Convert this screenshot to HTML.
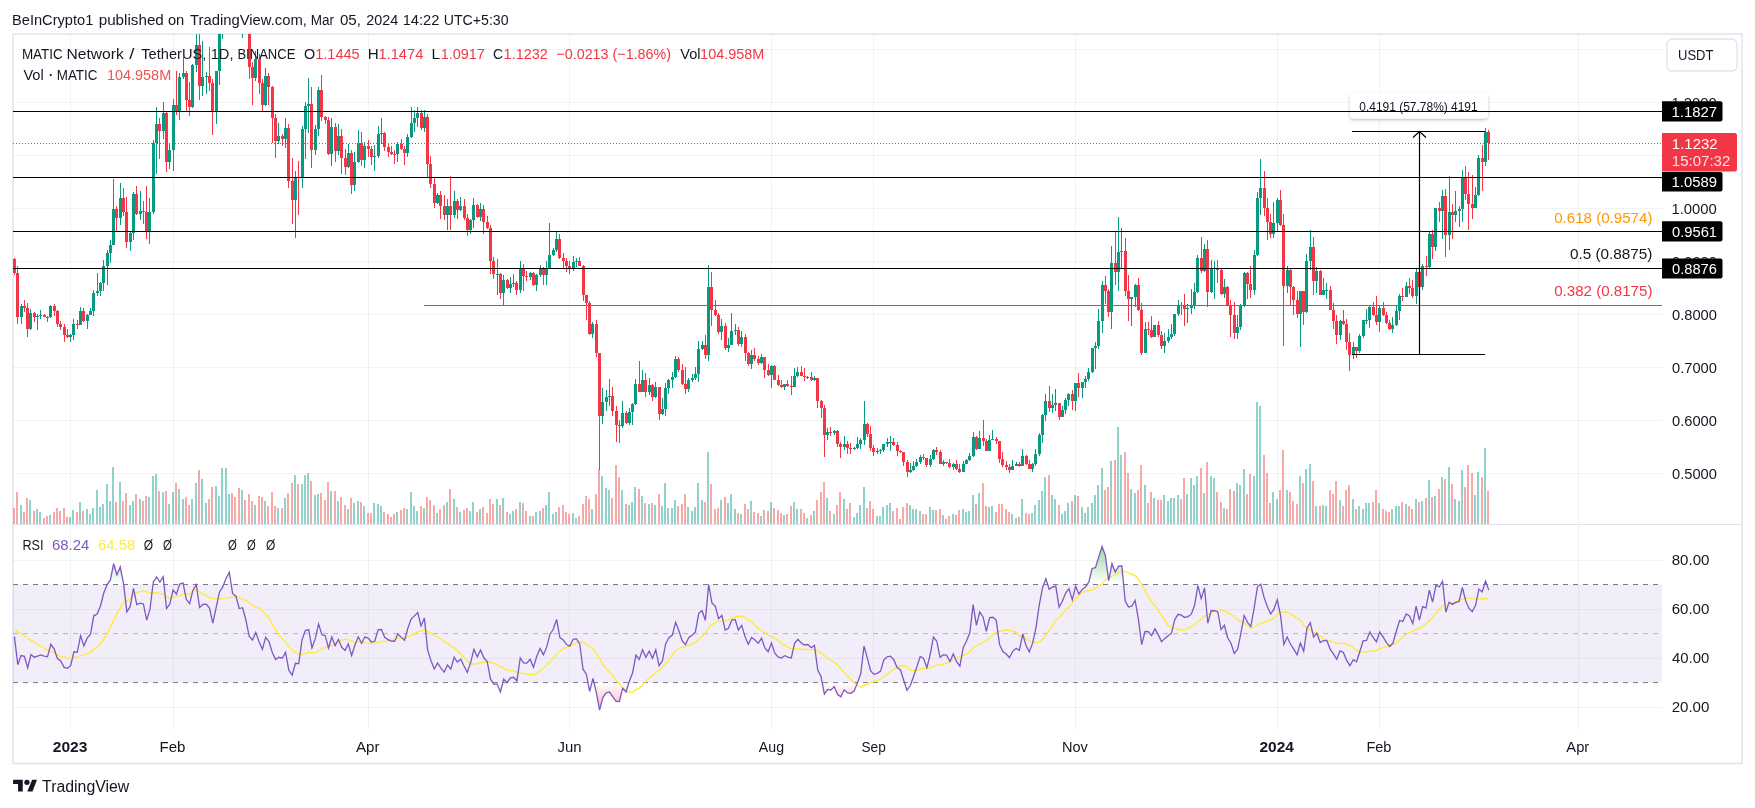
<!DOCTYPE html><html><head><meta charset="utf-8"><style>
html,body{margin:0;padding:0;background:#fff;}body{width:1755px;height:808px;overflow:hidden;position:relative;font-family:"Liberation Sans", sans-serif;}
svg{position:absolute;left:0;top:0;will-change:transform;}text{font-family:"Liberation Sans", sans-serif;}
</style></head><body>
<svg width="1755" height="808" viewBox="0 0 1755 808">
<defs><clipPath id="cpMain"><rect x="13" y="34" width="1649" height="490"/></clipPath>
<clipPath id="cpRsi"><rect x="13" y="525" width="1649" height="204"/></clipPath>
<filter id="sh" x="-10%" y="-30%" width="120%" height="180%"><feDropShadow dx="0" dy="1.5" stdDeviation="1.5" flood-color="#000" flood-opacity="0.25"/></filter></defs>
<text x="12.00" y="25.10" font-size="15.50" fill="#131722" textLength="81.31" lengthAdjust="spacingAndGlyphs">BeInCrypto1</text>
<text x="98.72" y="25.10" font-size="15.50" fill="#131722" textLength="65.06" lengthAdjust="spacingAndGlyphs">published</text>
<text x="167.88" y="25.10" font-size="15.50" fill="#131722" textLength="16.37" lengthAdjust="spacingAndGlyphs">on</text>
<text x="189.97" y="25.10" font-size="15.50" fill="#131722" textLength="116.94" lengthAdjust="spacingAndGlyphs">TradingView.com,</text>
<text x="310.69" y="25.10" font-size="15.50" fill="#131722" textLength="23.34" lengthAdjust="spacingAndGlyphs">Mar</text>
<text x="339.91" y="25.10" font-size="15.50" fill="#131722" textLength="21.05" lengthAdjust="spacingAndGlyphs">05,</text>
<text x="366.18" y="25.10" font-size="15.50" fill="#131722" textLength="31.94" lengthAdjust="spacingAndGlyphs">2024</text>
<text x="402.68" y="25.10" font-size="15.50" fill="#131722" textLength="36.76" lengthAdjust="spacingAndGlyphs">14:22</text>
<text x="443.81" y="25.10" font-size="15.50" fill="#131722" textLength="64.74" lengthAdjust="spacingAndGlyphs">UTC+5:30</text>
<rect x="13" y="34" width="1729" height="729.5" fill="#fff" stroke="#e0e3eb" stroke-width="1.5"/>
<path d="M13 49.5H1662M13 102.5H1662M13 155.5H1662M13 208.5H1662M13 261.5H1662M13 314.5H1662M13 367.5H1662M13 420.5H1662M13 473.5H1662M13 560.5H1662M13 609.5H1662M13 658.5H1662M13 707.5H1662M70.5 34V729M173.5 34V729M368.5 34V729M569.5 34V729M771.5 34V729M873.5 34V729M1075.5 34V729M1277.5 34V729M1379.5 34V729M1578.5 34V729" stroke="rgba(42,46,57,0.06)" stroke-width="1" fill="none"/>
<path d="M13 524.5H1742" stroke="#e0e3eb" stroke-width="1.2"/>
<g clip-path="url(#cpMain)">
<path d="M20 505h2v19h-2zM29 500h2v24h-2zM36 509h2v15h-2zM39 512h2v12h-2zM49 515h2v9h-2zM69 517h2v7h-2zM72 510h2v14h-2zM79 502h2v22h-2zM86 509h2v15h-2zM89 514h2v10h-2zM92 508h2v16h-2zM96 490h2v34h-2zM99 507h2v17h-2zM102 504h2v20h-2zM106 484h2v40h-2zM109 501h2v23h-2zM112 467h2v57h-2zM119 482h2v42h-2zM129 505h2v19h-2zM132 501h2v23h-2zM139 499h2v25h-2zM148 497h2v27h-2zM152 476h2v48h-2zM155 474h2v50h-2zM162 492h2v32h-2zM168 504h2v20h-2zM172 492h2v32h-2zM178 489h2v35h-2zM182 499h2v25h-2zM191 499h2v25h-2zM195 483h2v41h-2zM201 479h2v45h-2zM205 503h2v21h-2zM215 486h2v38h-2zM218 496h2v28h-2zM221 468h2v56h-2zM225 468h2v56h-2zM228 494h2v30h-2zM241 490h2v34h-2zM254 505h2v19h-2zM264 501h2v23h-2zM277 508h2v16h-2zM284 498h2v26h-2zM294 475h2v49h-2zM301 484h2v40h-2zM304 475h2v49h-2zM307 473h2v51h-2zM314 495h2v29h-2zM317 494h2v30h-2zM330 491h2v33h-2zM337 501h2v23h-2zM347 509h2v15h-2zM353 503h2v21h-2zM357 501h2v23h-2zM363 506h2v18h-2zM373 503h2v21h-2zM377 504h2v20h-2zM380 506h2v18h-2zM396 512h2v12h-2zM406 509h2v15h-2zM410 492h2v32h-2zM413 506h2v18h-2zM416 511h2v13h-2zM423 508h2v16h-2zM436 513h2v11h-2zM446 502h2v22h-2zM453 499h2v25h-2zM459 512h2v12h-2zM469 511h2v13h-2zM472 502h2v22h-2zM479 509h2v15h-2zM496 499h2v25h-2zM502 498h2v26h-2zM509 514h2v10h-2zM512 511h2v13h-2zM519 502h2v22h-2zM529 516h2v8h-2zM535 512h2v12h-2zM539 511h2v13h-2zM545 505h2v19h-2zM548 492h2v32h-2zM552 514h2v10h-2zM555 512h2v12h-2zM572 513h2v11h-2zM575 518h2v6h-2zM591 509h2v15h-2zM601 476h2v48h-2zM605 488h2v36h-2zM608 490h2v34h-2zM621 490h2v34h-2zM628 505h2v19h-2zM631 502h2v22h-2zM634 487h2v37h-2zM641 496h2v28h-2zM648 504h2v20h-2zM654 505h2v19h-2zM661 506h2v18h-2zM664 483h2v41h-2zM667 508h2v16h-2zM671 508h2v16h-2zM674 500h2v24h-2zM687 507h2v17h-2zM691 511h2v13h-2zM694 507h2v17h-2zM697 483h2v41h-2zM701 500h2v24h-2zM707 452h2v72h-2zM720 500h2v24h-2zM727 503h2v21h-2zM730 494h2v30h-2zM734 509h2v15h-2zM740 514h2v10h-2zM750 501h2v23h-2zM760 516h2v8h-2zM770 502h2v22h-2zM783 515h2v9h-2zM793 502h2v22h-2zM796 509h2v15h-2zM806 518h2v6h-2zM813 511h2v13h-2zM826 498h2v26h-2zM833 514h2v10h-2zM843 499h2v25h-2zM853 517h2v7h-2zM856 513h2v11h-2zM859 505h2v19h-2zM863 487h2v37h-2zM876 516h2v8h-2zM879 516h2v8h-2zM882 507h2v17h-2zM886 505h2v19h-2zM889 503h2v21h-2zM909 505h2v19h-2zM912 509h2v15h-2zM915 509h2v15h-2zM919 511h2v13h-2zM929 507h2v17h-2zM932 510h2v14h-2zM942 515h2v9h-2zM952 514h2v10h-2zM962 509h2v15h-2zM965 512h2v12h-2zM968 511h2v13h-2zM972 495h2v29h-2zM978 493h2v31h-2zM988 507h2v17h-2zM991 506h2v18h-2zM1011 514h2v10h-2zM1015 518h2v6h-2zM1021 499h2v25h-2zM1031 513h2v11h-2zM1034 505h2v19h-2zM1038 500h2v24h-2zM1041 491h2v33h-2zM1044 477h2v47h-2zM1051 495h2v29h-2zM1054 499h2v25h-2zM1061 514h2v10h-2zM1064 511h2v13h-2zM1067 503h2v21h-2zM1074 495h2v29h-2zM1081 507h2v17h-2zM1084 513h2v11h-2zM1087 507h2v17h-2zM1091 503h2v21h-2zM1094 495h2v29h-2zM1097 485h2v39h-2zM1101 468h2v56h-2zM1110 461h2v63h-2zM1117 427h2v97h-2zM1120 455h2v69h-2zM1130 489h2v35h-2zM1134 493h2v31h-2zM1144 485h2v39h-2zM1153 498h2v26h-2zM1163 495h2v29h-2zM1167 501h2v23h-2zM1170 498h2v26h-2zM1173 498h2v26h-2zM1177 495h2v29h-2zM1186 494h2v30h-2zM1190 478h2v46h-2zM1193 485h2v39h-2zM1196 476h2v48h-2zM1203 493h2v31h-2zM1210 476h2v48h-2zM1213 478h2v46h-2zM1223 508h2v16h-2zM1236 483h2v41h-2zM1239 485h2v39h-2zM1243 469h2v55h-2zM1253 476h2v48h-2zM1256 402h2v122h-2zM1259 406h2v118h-2zM1272 492h2v32h-2zM1276 499h2v25h-2zM1286 490h2v34h-2zM1299 476h2v48h-2zM1305 469h2v55h-2zM1309 464h2v60h-2zM1315 506h2v18h-2zM1322 505h2v19h-2zM1325 506h2v18h-2zM1339 500h2v24h-2zM1352 499h2v25h-2zM1358 506h2v18h-2zM1362 509h2v15h-2zM1365 503h2v21h-2zM1368 503h2v21h-2zM1378 503h2v21h-2zM1391 509h2v15h-2zM1395 506h2v18h-2zM1398 506h2v18h-2zM1405 504h2v20h-2zM1415 499h2v25h-2zM1421 501h2v23h-2zM1428 480h2v44h-2zM1434 496h2v28h-2zM1441 477h2v47h-2zM1448 467h2v57h-2zM1454 499h2v25h-2zM1458 501h2v23h-2zM1461 470h2v54h-2zM1474 495h2v29h-2zM1477 472h2v52h-2zM1484 448h2v76h-2z" fill="rgba(38,166,154,0.5)" shape-rendering="crispEdges"/>
<path d="M13 508h2v16h-2zM16 492h2v32h-2zM23 512h2v12h-2zM26 498h2v26h-2zM33 511h2v13h-2zM43 518h2v6h-2zM46 516h2v8h-2zM53 512h2v12h-2zM56 508h2v16h-2zM59 511h2v13h-2zM63 508h2v16h-2zM66 517h2v7h-2zM76 512h2v12h-2zM82 511h2v13h-2zM115 502h2v22h-2zM122 501h2v23h-2zM125 493h2v31h-2zM135 494h2v30h-2zM142 501h2v23h-2zM145 496h2v28h-2zM158 491h2v33h-2zM165 491h2v33h-2zM175 483h2v41h-2zM185 497h2v27h-2zM188 505h2v19h-2zM198 470h2v54h-2zM208 499h2v25h-2zM211 487h2v37h-2zM231 493h2v31h-2zM234 497h2v27h-2zM238 488h2v36h-2zM244 500h2v24h-2zM248 494h2v30h-2zM251 501h2v23h-2zM258 496h2v28h-2zM261 497h2v27h-2zM267 506h2v18h-2zM271 492h2v32h-2zM274 506h2v18h-2zM281 508h2v16h-2zM287 493h2v31h-2zM291 483h2v41h-2zM297 484h2v40h-2zM310 481h2v43h-2zM320 493h2v31h-2zM324 500h2v24h-2zM327 482h2v42h-2zM334 491h2v33h-2zM340 497h2v27h-2zM344 505h2v19h-2zM350 498h2v26h-2zM360 502h2v22h-2zM367 513h2v11h-2zM370 513h2v11h-2zM383 512h2v12h-2zM387 514h2v10h-2zM390 517h2v7h-2zM393 514h2v10h-2zM400 510h2v14h-2zM403 508h2v16h-2zM420 506h2v18h-2zM426 497h2v27h-2zM429 500h2v24h-2zM433 505h2v19h-2zM439 509h2v15h-2zM443 505h2v19h-2zM449 489h2v35h-2zM456 507h2v17h-2zM463 510h2v14h-2zM466 508h2v16h-2zM476 512h2v12h-2zM482 507h2v17h-2zM486 513h2v11h-2zM489 499h2v25h-2zM492 504h2v20h-2zM499 505h2v19h-2zM506 512h2v12h-2zM515 509h2v15h-2zM522 503h2v21h-2zM525 511h2v13h-2zM532 516h2v8h-2zM542 508h2v16h-2zM558 507h2v17h-2zM562 505h2v19h-2zM565 512h2v12h-2zM568 514h2v10h-2zM578 516h2v8h-2zM582 504h2v20h-2zM585 496h2v28h-2zM588 499h2v25h-2zM595 494h2v30h-2zM598 469h2v55h-2zM611 498h2v26h-2zM615 465h2v59h-2zM618 477h2v47h-2zM625 504h2v20h-2zM638 489h2v35h-2zM644 503h2v21h-2zM651 503h2v21h-2zM658 494h2v30h-2zM677 506h2v18h-2zM681 504h2v20h-2zM684 494h2v30h-2zM704 502h2v22h-2zM710 484h2v40h-2zM714 509h2v15h-2zM717 508h2v16h-2zM724 497h2v27h-2zM737 513h2v11h-2zM744 504h2v20h-2zM747 509h2v15h-2zM753 512h2v12h-2zM757 513h2v11h-2zM763 510h2v14h-2zM767 511h2v13h-2zM773 508h2v16h-2zM777 510h2v14h-2zM780 513h2v11h-2zM786 514h2v10h-2zM790 506h2v18h-2zM800 509h2v15h-2zM803 513h2v11h-2zM810 515h2v9h-2zM816 500h2v24h-2zM820 492h2v32h-2zM823 482h2v42h-2zM829 511h2v13h-2zM836 505h2v19h-2zM839 492h2v32h-2zM846 509h2v15h-2zM849 503h2v21h-2zM866 508h2v16h-2zM869 501h2v23h-2zM872 509h2v15h-2zM892 511h2v13h-2zM896 508h2v16h-2zM899 519h2v5h-2zM902 507h2v17h-2zM906 503h2v21h-2zM922 514h2v10h-2zM925 514h2v10h-2zM935 510h2v14h-2zM939 509h2v15h-2zM945 519h2v5h-2zM948 516h2v8h-2zM955 515h2v9h-2zM958 510h2v14h-2zM975 504h2v20h-2zM982 483h2v41h-2zM985 506h2v18h-2zM995 512h2v12h-2zM998 504h2v20h-2zM1001 504h2v20h-2zM1005 509h2v15h-2zM1008 512h2v12h-2zM1018 517h2v7h-2zM1025 513h2v11h-2zM1028 514h2v10h-2zM1048 475h2v49h-2zM1058 505h2v19h-2zM1071 501h2v23h-2zM1077 496h2v28h-2zM1104 490h2v34h-2zM1107 487h2v37h-2zM1114 460h2v64h-2zM1124 452h2v72h-2zM1127 473h2v51h-2zM1137 490h2v34h-2zM1140 465h2v59h-2zM1147 503h2v21h-2zM1150 492h2v32h-2zM1157 500h2v24h-2zM1160 500h2v24h-2zM1180 499h2v25h-2zM1183 478h2v46h-2zM1200 468h2v56h-2zM1206 462h2v62h-2zM1216 492h2v32h-2zM1220 502h2v22h-2zM1226 509h2v15h-2zM1229 489h2v35h-2zM1233 491h2v33h-2zM1246 494h2v30h-2zM1249 474h2v50h-2zM1263 455h2v69h-2zM1266 473h2v51h-2zM1269 503h2v21h-2zM1279 490h2v34h-2zM1282 450h2v74h-2zM1289 492h2v32h-2zM1292 501h2v23h-2zM1296 504h2v20h-2zM1302 483h2v41h-2zM1312 481h2v43h-2zM1319 506h2v18h-2zM1329 490h2v34h-2zM1332 494h2v30h-2zM1335 481h2v43h-2zM1342 506h2v18h-2zM1345 490h2v34h-2zM1348 485h2v39h-2zM1355 509h2v15h-2zM1372 502h2v22h-2zM1375 490h2v34h-2zM1382 509h2v15h-2zM1385 511h2v13h-2zM1388 512h2v12h-2zM1401 502h2v22h-2zM1408 506h2v18h-2zM1411 509h2v15h-2zM1418 502h2v22h-2zM1425 498h2v26h-2zM1431 497h2v27h-2zM1438 489h2v35h-2zM1444 479h2v45h-2zM1451 484h2v40h-2zM1464 487h2v37h-2zM1467 465h2v59h-2zM1471 473h2v51h-2zM1481 477h2v47h-2zM1487 491h2v33h-2z" fill="rgba(239,83,80,0.5)" shape-rendering="crispEdges"/>
<path d="M21 304h1v20h-1zM20 306h3v11h-3zM30 309h1v21h-1zM29 313h3v16h-3zM37 314h1v16h-1zM36 316h3v1h-3zM40 310h1v9h-1zM39 315h3v1h-3zM50 305h1v13h-1zM49 306h3v11h-3zM70 334h1v8h-1zM69 335h3v2h-3zM73 319h1v21h-1zM72 324h3v11h-3zM80 307h1v18h-1zM79 311h3v14h-3zM87 314h1v15h-1zM86 315h3v6h-3zM90 308h1v7h-1zM89 311h3v4h-3zM93 290h1v26h-1zM92 293h3v18h-3zM97 273h1v23h-1zM96 291h3v2h-3zM100 282h1v14h-1zM99 283h3v8h-3zM103 260h1v31h-1zM102 266h3v17h-3zM107 250h1v35h-1zM106 253h3v13h-3zM110 240h1v23h-1zM109 245h3v8h-3zM113 179h1v66h-1zM112 209h3v36h-3zM120 183h1v42h-1zM119 198h3v20h-3zM130 231h1v20h-1zM129 233h3v9h-3zM133 192h1v48h-1zM132 194h3v39h-3zM140 191h1v29h-1zM139 211h3v3h-3zM149 198h1v46h-1zM148 212h3v20h-3zM153 140h1v74h-1zM152 143h3v69h-3zM156 107h1v67h-1zM155 124h3v19h-3zM163 102h1v37h-1zM162 113h3v18h-3zM169 144h1v25h-1zM168 150h3v12h-3zM173 99h1v72h-1zM172 105h3v45h-3zM179 73h1v47h-1zM178 77h3v35h-3zM183 57h1v22h-1zM182 73h3v4h-3zM192 64h1v44h-1zM191 65h3v42h-3zM196 34h1v38h-1zM195 45h3v20h-3zM202 41h1v55h-1zM201 77h3v9h-3zM206 72h1v22h-1zM205 76h3v1h-3zM216 71h1v53h-1zM215 71h3v40h-3zM219 12h1v73h-1zM218 17h3v54h-3zM222 -30h1v69h-1zM221 -4h3v21h-3zM226 -67h1v74h-1zM225 -41h3v37h-3zM229 -94h1v69h-1zM228 -73h3v32h-3zM242 -9h1v47h-1zM241 -1h3v3h-3zM255 51h1v30h-1zM254 59h3v19h-3zM265 68h1v38h-1zM264 76h3v29h-3zM278 123h1v21h-1zM277 136h3v5h-3zM285 118h1v30h-1zM284 128h3v11h-3zM295 171h1v67h-1zM294 177h3v23h-3zM302 126h1v62h-1zM301 129h3v49h-3zM305 102h1v57h-1zM304 106h3v23h-3zM308 78h1v55h-1zM307 104h3v2h-3zM315 125h1v30h-1zM314 129h3v21h-3zM318 87h1v49h-1zM317 90h3v39h-3zM331 118h1v48h-1zM330 127h3v27h-3zM338 124h1v31h-1zM337 136h3v15h-3zM348 144h1v24h-1zM347 153h3v14h-3zM354 152h1v39h-1zM353 162h3v23h-3zM358 130h1v33h-1zM357 143h3v19h-3zM364 142h1v26h-1zM363 146h3v14h-3zM374 145h1v26h-1zM373 156h3v1h-3zM378 126h1v32h-1zM377 134h3v22h-3zM381 118h1v26h-1zM380 133h3v1h-3zM397 142h1v20h-1zM396 144h3v10h-3zM407 134h1v23h-1zM406 137h3v16h-3zM411 107h1v31h-1zM410 123h3v14h-3zM414 110h1v22h-1zM413 118h3v5h-3zM417 107h1v20h-1zM416 113h3v5h-3zM424 110h1v22h-1zM423 117h3v11h-3zM437 193h1v11h-1zM436 195h3v8h-3zM447 199h1v31h-1zM446 206h3v9h-3zM454 191h1v27h-1zM453 201h3v14h-3zM460 197h1v14h-1zM459 206h3v4h-3zM470 219h1v15h-1zM469 220h3v10h-3zM473 198h1v30h-1zM472 205h3v15h-3zM480 203h1v18h-1zM479 209h3v8h-3zM497 259h1v36h-1zM496 274h3v1h-3zM503 275h1v30h-1zM502 280h3v13h-3zM510 277h1v16h-1zM509 284h3v4h-3zM513 274h1v13h-1zM512 283h3v1h-3zM520 261h1v32h-1zM519 268h3v22h-3zM530 272h1v8h-1zM529 273h3v4h-3zM536 274h1v17h-1zM535 275h3v10h-3zM540 265h1v12h-1zM539 268h3v7h-3zM546 261h1v24h-1zM545 268h3v7h-3zM549 223h1v46h-1zM548 255h3v13h-3zM553 248h1v8h-1zM552 250h3v5h-3zM556 232h1v20h-1zM555 239h3v11h-3zM573 256h1v15h-1zM572 262h3v6h-3zM576 258h1v9h-1zM575 261h3v1h-3zM592 322h1v16h-1zM591 324h3v10h-3zM602 388h1v36h-1zM601 402h3v14h-3zM606 390h1v21h-1zM605 397h3v5h-3zM609 379h1v27h-1zM608 396h3v1h-3zM622 401h1v27h-1zM621 413h3v13h-3zM629 408h1v17h-1zM628 412h3v11h-3zM632 403h1v22h-1zM631 404h3v8h-3zM635 379h1v26h-1zM634 384h3v20h-3zM642 370h1v22h-1zM641 380h3v12h-3zM649 378h1v17h-1zM648 385h3v7h-3zM655 382h1v16h-1zM654 387h3v10h-3zM662 398h1v17h-1zM661 409h3v5h-3zM665 383h1v33h-1zM664 388h3v21h-3zM668 379h1v15h-1zM667 380h3v8h-3zM672 372h1v16h-1zM671 377h3v3h-3zM675 356h1v22h-1zM674 359h3v18h-3zM688 378h1v14h-1zM687 380h3v9h-3zM692 374h1v8h-1zM691 378h3v2h-3zM695 367h1v13h-1zM694 374h3v4h-3zM698 341h1v41h-1zM697 349h3v25h-3zM702 341h1v9h-1zM701 345h3v4h-3zM708 265h1v96h-1zM707 287h3v68h-3zM721 319h1v21h-1zM720 326h3v6h-3zM728 338h1v14h-1zM727 345h3v3h-3zM731 313h1v32h-1zM730 331h3v14h-3zM735 324h1v11h-1zM734 330h3v1h-3zM741 331h1v16h-1zM740 337h3v7h-3zM751 350h1v19h-1zM750 355h3v9h-3zM761 354h1v10h-1zM760 357h3v6h-3zM771 365h1v23h-1zM770 366h3v9h-3zM784 384h1v6h-1zM783 384h3v3h-3zM794 368h1v19h-1zM793 376h3v11h-3zM797 367h1v10h-1zM796 372h3v4h-3zM807 376h1v3h-1zM806 377h3v1h-3zM814 376h1v5h-1zM813 378h3v2h-3zM827 428h1v12h-1zM826 432h3v3h-3zM834 430h1v5h-1zM833 431h3v2h-3zM844 436h1v14h-1zM843 444h3v3h-3zM854 447h1v3h-1zM853 448h3v1h-3zM857 437h1v12h-1zM856 444h3v4h-3zM860 438h1v11h-1zM859 440h3v4h-3zM864 401h1v44h-1zM863 424h3v16h-3zM877 448h1v6h-1zM876 451h3v1h-3zM880 449h1v5h-1zM879 450h3v1h-3zM883 444h1v8h-1zM882 444h3v6h-3zM887 438h1v9h-1zM886 442h3v2h-3zM890 436h1v15h-1zM889 442h3v1h-3zM910 463h1v10h-1zM909 470h3v2h-3zM913 461h1v10h-1zM912 466h3v4h-3zM916 459h1v8h-1zM915 462h3v4h-3zM920 455h1v9h-1zM919 457h3v5h-3zM930 455h1v12h-1zM929 459h3v6h-3zM933 449h1v11h-1zM932 450h3v9h-3zM943 460h1v6h-1zM942 462h3v2h-3zM953 463h1v7h-1zM952 464h3v3h-3zM963 461h1v11h-1zM962 464h3v8h-3zM966 459h1v5h-1zM965 460h3v4h-3zM969 453h1v8h-1zM968 456h3v4h-3zM973 432h1v25h-1zM972 437h3v19h-3zM979 431h1v18h-1zM978 438h3v11h-3zM989 435h1v16h-1zM988 440h3v11h-3zM992 430h1v10h-1zM991 439h3v1h-3zM1012 460h1v10h-1zM1011 466h3v4h-3zM1016 462h1v4h-1zM1015 464h3v2h-3zM1022 449h1v17h-1zM1021 456h3v10h-3zM1032 463h1v9h-1zM1031 464h3v5h-3zM1035 449h1v17h-1zM1034 454h3v10h-3zM1039 433h1v23h-1zM1038 435h3v19h-3zM1042 414h1v29h-1zM1041 415h3v20h-3zM1045 394h1v27h-1zM1044 401h3v14h-3zM1052 394h1v19h-1zM1051 405h3v3h-3zM1055 389h1v22h-1zM1054 403h3v2h-3zM1062 406h1v11h-1zM1061 410h3v7h-3zM1065 398h1v16h-1zM1064 400h3v10h-3zM1068 393h1v13h-1zM1067 394h3v6h-3zM1075 383h1v28h-1zM1074 383h3v18h-3zM1082 382h1v16h-1zM1081 382h3v6h-3zM1085 376h1v12h-1zM1084 379h3v3h-3zM1088 368h1v13h-1zM1087 372h3v7h-3zM1092 348h1v25h-1zM1091 348h3v24h-3zM1095 342h1v27h-1zM1094 346h3v2h-3zM1098 309h1v40h-1zM1097 321h3v25h-3zM1102 281h1v52h-1zM1101 285h3v36h-3zM1111 246h1v83h-1zM1110 263h3v49h-3zM1118 217h1v74h-1zM1117 252h3v20h-3zM1121 228h1v41h-1zM1120 251h3v1h-3zM1131 297h1v29h-1zM1130 297h3v2h-3zM1135 284h1v23h-1zM1134 285h3v12h-3zM1145 322h1v31h-1zM1144 329h3v24h-3zM1154 325h1v12h-1zM1153 325h3v12h-3zM1164 333h1v20h-1zM1163 341h3v5h-3zM1168 329h1v14h-1zM1167 337h3v4h-3zM1171 324h1v15h-1zM1170 334h3v3h-3zM1174 314h1v22h-1zM1173 314h3v20h-3zM1178 300h1v16h-1zM1177 305h3v9h-3zM1187 304h1v19h-1zM1186 308h3v1h-3zM1191 289h1v25h-1zM1190 305h3v3h-3zM1194 283h1v26h-1zM1193 292h3v13h-3zM1197 255h1v38h-1zM1196 258h3v34h-3zM1204 244h1v28h-1zM1203 249h3v22h-3zM1211 260h1v33h-1zM1210 268h3v24h-3zM1214 261h1v38h-1zM1213 268h3v1h-3zM1224 279h1v19h-1zM1223 287h3v7h-3zM1237 315h1v24h-1zM1236 327h3v6h-3zM1240 304h1v26h-1zM1239 305h3v22h-3zM1244 272h1v35h-1zM1243 273h3v32h-3zM1254 250h1v45h-1zM1253 255h3v35h-3zM1257 192h1v64h-1zM1256 198h3v57h-3zM1260 159h1v56h-1zM1259 188h3v10h-3zM1273 202h1v36h-1zM1272 223h3v11h-3zM1277 198h1v33h-1zM1276 200h3v23h-3zM1287 266h1v27h-1zM1286 270h3v16h-3zM1300 291h1v56h-1zM1299 291h3v23h-3zM1306 254h1v59h-1zM1305 261h3v51h-3zM1310 230h1v40h-1zM1309 247h3v14h-3zM1316 267h1v26h-1zM1315 271h3v10h-3zM1323 278h1v17h-1zM1322 290h3v5h-3zM1326 283h1v16h-1zM1325 290h3v1h-3zM1340 320h1v20h-1zM1339 321h3v14h-3zM1353 342h1v17h-1zM1352 347h3v8h-3zM1359 334h1v19h-1zM1358 336h3v15h-3zM1363 320h1v18h-1zM1362 320h3v16h-3zM1366 309h1v15h-1zM1365 320h3v1h-3zM1369 306h1v22h-1zM1368 307h3v13h-3zM1379 305h1v27h-1zM1378 308h3v14h-3zM1392 317h1v16h-1zM1391 325h3v4h-3zM1396 305h1v21h-1zM1395 311h3v14h-3zM1399 294h1v26h-1zM1398 296h3v15h-3zM1406 282h1v15h-1zM1405 286h3v11h-3zM1416 269h1v35h-1zM1415 272h3v24h-3zM1422 264h1v26h-1zM1421 266h3v21h-3zM1429 231h1v37h-1zM1428 234h3v33h-3zM1435 208h1v43h-1zM1434 208h3v39h-3zM1442 190h1v49h-1zM1441 196h3v15h-3zM1449 176h1v74h-1zM1448 212h3v23h-3zM1455 191h1v31h-1zM1454 211h3v4h-3zM1459 206h1v21h-1zM1458 209h3v2h-3zM1462 170h1v52h-1zM1461 177h3v32h-3zM1475 187h1v21h-1zM1474 195h3v13h-3zM1478 155h1v41h-1zM1477 158h3v37h-3zM1485 128h1v38h-1zM1484 132h3v30h-3z" fill="#089981" shape-rendering="crispEdges"/>
<path d="M14 258h1v17h-1zM13 259h3v14h-3zM17 266h1v58h-1zM16 273h3v44h-3zM24 300h1v12h-1zM23 306h3v2h-3zM27 303h1v34h-1zM26 308h3v21h-3zM34 312h1v10h-1zM33 313h3v4h-3zM44 314h1v3h-1zM43 315h3v2h-3zM47 316h1v6h-1zM46 317h3v1h-3zM54 304h1v12h-1zM53 306h3v5h-3zM57 310h1v17h-1zM56 311h3v13h-3zM60 321h1v9h-1zM59 324h3v3h-3zM64 324h1v18h-1zM63 327h3v8h-3zM67 329h1v9h-1zM66 335h3v2h-3zM77 320h1v9h-1zM76 324h3v1h-3zM83 308h1v14h-1zM82 311h3v10h-3zM116 206h1v25h-1zM115 209h3v9h-3zM123 188h1v28h-1zM122 198h3v14h-3zM126 197h1v51h-1zM125 212h3v30h-3zM136 186h1v29h-1zM135 194h3v20h-3zM143 201h1v23h-1zM142 211h3v1h-3zM146 186h1v53h-1zM145 212h3v20h-3zM159 118h1v41h-1zM158 124h3v7h-3zM166 112h1v60h-1zM165 113h3v49h-3zM176 71h1v44h-1zM175 105h3v7h-3zM186 71h1v40h-1zM185 73h3v27h-3zM189 82h1v34h-1zM188 100h3v7h-3zM199 34h1v66h-1zM198 45h3v41h-3zM209 47h1v44h-1zM208 76h3v7h-3zM212 79h1v56h-1zM211 83h3v28h-3zM232 -83h1v74h-1zM231 -73h3v43h-3zM235 -46h1v42h-1zM234 -30h3v5h-3zM239 -35h1v52h-1zM238 -25h3v27h-3zM245 -1h1v32h-1zM244 -1h3v26h-3zM249 -5h1v84h-1zM248 25h3v42h-3zM252 62h1v43h-1zM251 67h3v11h-3zM259 54h1v40h-1zM258 59h3v24h-3zM262 79h1v32h-1zM261 83h3v22h-3zM268 73h1v32h-1zM267 76h3v11h-3zM272 86h1v57h-1zM271 87h3v31h-3zM275 114h1v44h-1zM274 118h3v23h-3zM282 134h1v12h-1zM281 136h3v3h-3zM288 124h1v64h-1zM287 128h3v53h-3zM292 158h1v66h-1zM291 181h3v19h-3zM298 161h1v54h-1zM297 177h3v1h-3zM311 87h1v81h-1zM310 104h3v46h-3zM321 75h1v46h-1zM320 90h3v27h-3zM325 116h1v8h-1zM324 117h3v3h-3zM328 117h1v38h-1zM327 120h3v34h-3zM335 123h1v39h-1zM334 127h3v24h-3zM341 129h1v45h-1zM340 136h3v22h-3zM345 149h1v26h-1zM344 158h3v9h-3zM351 150h1v44h-1zM350 153h3v32h-3zM361 132h1v34h-1zM360 143h3v17h-3zM368 140h1v17h-1zM367 146h3v3h-3zM371 146h1v19h-1zM370 149h3v8h-3zM384 132h1v19h-1zM383 133h3v14h-3zM388 144h1v13h-1zM387 147h3v5h-3zM391 146h1v9h-1zM390 152h3v2h-3zM394 150h1v14h-1zM393 154h3v1h-3zM401 139h1v11h-1zM400 144h3v5h-3zM404 146h1v19h-1zM403 149h3v4h-3zM421 110h1v20h-1zM420 113h3v15h-3zM427 114h1v64h-1zM426 117h3v47h-3zM430 156h1v32h-1zM429 164h3v20h-3zM434 178h1v30h-1zM433 184h3v19h-3zM440 191h1v28h-1zM439 195h3v11h-3zM444 195h1v25h-1zM443 206h3v9h-3zM450 176h1v54h-1zM449 206h3v9h-3zM457 199h1v20h-1zM456 201h3v9h-3zM464 199h1v21h-1zM463 206h3v12h-3zM467 214h1v22h-1zM466 218h3v12h-3zM477 204h1v14h-1zM476 205h3v12h-3zM483 205h1v29h-1zM482 209h3v13h-3zM487 216h1v13h-1zM486 222h3v6h-3zM490 225h1v49h-1zM489 228h3v33h-3zM493 257h1v22h-1zM492 261h3v13h-3zM500 273h1v26h-1zM499 274h3v19h-3zM507 279h1v10h-1zM506 280h3v8h-3zM516 281h1v14h-1zM515 283h3v7h-3zM523 264h1v27h-1zM522 268h3v8h-3zM526 271h1v10h-1zM525 276h3v1h-3zM533 272h1v14h-1zM532 273h3v12h-3zM543 267h1v18h-1zM542 268h3v7h-3zM559 234h1v25h-1zM558 239h3v19h-3zM563 253h1v16h-1zM562 258h3v3h-3zM566 258h1v14h-1zM565 261h3v5h-3zM569 261h1v13h-1zM568 266h3v2h-3zM579 257h1v9h-1zM578 261h3v5h-3zM583 265h1v36h-1zM582 266h3v29h-3zM586 295h1v25h-1zM585 295h3v8h-3zM589 301h1v34h-1zM588 303h3v31h-3zM596 320h1v37h-1zM595 324h3v29h-3zM599 353h1v117h-1zM598 353h3v63h-3zM612 387h1v29h-1zM611 396h3v15h-3zM616 406h1v36h-1zM615 411h3v14h-3zM619 420h1v23h-1zM618 425h3v1h-3zM626 411h1v13h-1zM625 413h3v10h-3zM639 361h1v31h-1zM638 384h3v8h-3zM645 373h1v24h-1zM644 380h3v12h-3zM652 384h1v17h-1zM651 385h3v12h-3zM659 387h1v33h-1zM658 387h3v27h-3zM678 357h1v15h-1zM677 359h3v11h-3zM682 364h1v21h-1zM681 370h3v14h-3zM685 367h1v27h-1zM684 384h3v5h-3zM705 335h1v24h-1zM704 345h3v10h-3zM711 272h1v54h-1zM710 287h3v23h-3zM715 300h1v16h-1zM714 310h3v5h-3zM718 313h1v21h-1zM717 315h3v17h-3zM725 323h1v27h-1zM724 326h3v22h-3zM738 327h1v19h-1zM737 330h3v14h-3zM745 334h1v27h-1zM744 337h3v16h-3zM748 352h1v14h-1zM747 353h3v11h-3zM754 348h1v13h-1zM753 355h3v4h-3zM758 356h1v9h-1zM757 359h3v4h-3zM764 357h1v21h-1zM763 357h3v13h-3zM768 364h1v12h-1zM767 370h3v5h-3zM774 365h1v15h-1zM773 366h3v14h-3zM778 375h1v11h-1zM777 380h3v5h-3zM781 380h1v8h-1zM780 385h3v2h-3zM787 380h1v7h-1zM786 384h3v2h-3zM791 376h1v19h-1zM790 386h3v1h-3zM801 366h1v10h-1zM800 372h3v4h-3zM804 368h1v13h-1zM803 376h3v1h-3zM811 372h1v9h-1zM810 377h3v3h-3zM817 378h1v30h-1zM816 378h3v23h-3zM821 400h1v18h-1zM820 401h3v7h-3zM824 405h1v52h-1zM823 408h3v27h-3zM830 427h1v9h-1zM829 432h3v1h-3zM837 430h1v17h-1zM836 431h3v13h-3zM840 442h1v16h-1zM839 444h3v3h-3zM847 441h1v13h-1zM846 444h3v4h-3zM850 443h1v11h-1zM849 448h3v1h-3zM867 423h1v14h-1zM866 424h3v10h-3zM870 426h1v25h-1zM869 434h3v14h-3zM873 445h1v11h-1zM872 448h3v4h-3zM893 438h1v8h-1zM892 442h3v3h-3zM897 442h1v14h-1zM896 445h3v6h-3zM900 450h1v3h-1zM899 451h3v1h-3zM903 452h1v14h-1zM902 452h3v10h-3zM907 460h1v17h-1zM906 462h3v10h-3zM923 454h1v6h-1zM922 457h3v1h-3zM926 458h1v9h-1zM925 458h3v7h-3zM936 447h1v8h-1zM935 450h3v2h-3zM940 450h1v14h-1zM939 452h3v12h-3zM946 462h1v2h-1zM945 462h3v1h-3zM949 459h1v9h-1zM948 463h3v4h-3zM956 460h1v10h-1zM955 464h3v5h-3zM959 464h1v9h-1zM958 469h3v3h-3zM976 436h1v14h-1zM975 437h3v12h-3zM983 420h1v26h-1zM982 438h3v3h-3zM986 439h1v12h-1zM985 441h3v10h-3zM996 437h1v7h-1zM995 439h3v2h-3zM999 441h1v22h-1zM998 441h3v18h-3zM1002 452h1v15h-1zM1001 459h3v6h-3zM1006 461h1v9h-1zM1005 465h3v2h-3zM1009 464h1v9h-1zM1008 467h3v3h-3zM1019 462h1v5h-1zM1018 464h3v2h-3zM1026 455h1v10h-1zM1025 456h3v8h-3zM1029 460h1v9h-1zM1028 464h3v5h-3zM1049 386h1v26h-1zM1048 401h3v7h-3zM1059 403h1v17h-1zM1058 403h3v14h-3zM1072 390h1v20h-1zM1071 394h3v7h-3zM1078 373h1v24h-1zM1077 383h3v5h-3zM1105 276h1v28h-1zM1104 285h3v6h-3zM1108 289h1v28h-1zM1107 291h3v21h-3zM1115 232h1v53h-1zM1114 263h3v9h-3zM1125 238h1v58h-1zM1124 251h3v40h-3zM1128 275h1v46h-1zM1127 291h3v8h-3zM1138 278h1v33h-1zM1137 285h3v25h-3zM1141 303h1v52h-1zM1140 310h3v43h-3zM1148 322h1v13h-1zM1147 329h3v1h-3zM1151 316h1v22h-1zM1150 330h3v7h-3zM1158 321h1v16h-1zM1157 325h3v10h-3zM1161 331h1v18h-1zM1160 335h3v11h-3zM1181 302h1v13h-1zM1180 305h3v1h-3zM1184 294h1v32h-1zM1183 306h3v3h-3zM1201 237h1v36h-1zM1200 258h3v13h-3zM1207 240h1v67h-1zM1206 249h3v43h-3zM1217 260h1v23h-1zM1216 268h3v2h-3zM1221 269h1v26h-1zM1220 270h3v24h-3zM1227 286h1v20h-1zM1226 287h3v19h-3zM1230 300h1v37h-1zM1229 306h3v9h-3zM1234 302h1v37h-1zM1233 315h3v18h-3zM1247 272h1v27h-1zM1246 273h3v11h-3zM1250 266h1v32h-1zM1249 284h3v6h-3zM1264 171h1v45h-1zM1263 188h3v20h-3zM1267 198h1v42h-1zM1266 208h3v14h-3zM1270 214h1v24h-1zM1269 222h3v12h-3zM1280 190h1v36h-1zM1279 200h3v25h-3zM1283 214h1v132h-1zM1282 225h3v61h-3zM1290 269h1v36h-1zM1289 270h3v17h-3zM1293 286h1v29h-1zM1292 287h3v13h-3zM1297 291h1v27h-1zM1296 300h3v14h-3zM1303 291h1v34h-1zM1302 291h3v21h-3zM1313 237h1v58h-1zM1312 247h3v34h-3zM1320 270h1v25h-1zM1319 271h3v24h-3zM1330 286h1v24h-1zM1329 290h3v20h-3zM1333 303h1v26h-1zM1332 310h3v11h-3zM1336 315h1v29h-1zM1335 321h3v14h-3zM1343 310h1v15h-1zM1342 321h3v3h-3zM1346 319h1v31h-1zM1345 324h3v18h-3zM1349 333h1v38h-1zM1348 342h3v13h-3zM1356 347h1v11h-1zM1355 347h3v4h-3zM1373 302h1v14h-1zM1372 307h3v8h-3zM1376 296h1v29h-1zM1375 315h3v7h-3zM1383 302h1v14h-1zM1382 308h3v7h-3zM1386 312h1v12h-1zM1385 315h3v8h-3zM1389 320h1v10h-1zM1388 323h3v6h-3zM1402 288h1v13h-1zM1401 296h3v1h-3zM1409 278h1v16h-1zM1408 286h3v2h-3zM1412 280h1v18h-1zM1411 288h3v8h-3zM1419 271h1v20h-1zM1418 272h3v15h-3zM1426 256h1v20h-1zM1425 266h3v1h-3zM1432 230h1v29h-1zM1431 234h3v13h-3zM1439 202h1v20h-1zM1438 208h3v3h-3zM1445 189h1v68h-1zM1444 196h3v39h-3zM1452 204h1v35h-1zM1451 212h3v3h-3zM1465 166h1v34h-1zM1464 177h3v17h-3zM1468 172h1v58h-1zM1467 194h3v10h-3zM1472 175h1v44h-1zM1471 204h3v4h-3zM1482 145h1v46h-1zM1481 158h3v4h-3zM1488 130h1v30h-1zM1487 132h3v11h-3z" fill="#f23645" shape-rendering="crispEdges"/>
<rect x="13" y="111" width="1649" height="1" fill="#000"/>
<rect x="13" y="177" width="1649" height="1" fill="#000"/>
<rect x="13" y="231" width="1649" height="1" fill="#000"/>
<rect x="13" y="268" width="1649" height="1" fill="#000"/>
<rect x="424" y="305" width="1238" height="1" fill="#f23645"/>
<path d="M13 143.5H1662" stroke="#f23645" stroke-width="1" stroke-dasharray="1 2" shape-rendering="crispEdges"/>
<path d="M1352 131.5H1485M1352 354.5H1485M1419.5 131.5V354.5M1413 137.5L1419.5 131.5L1426 137.5" stroke="#000" stroke-width="1.2" fill="none"/>
<rect x="1350" y="93" width="138" height="25.5" rx="4" fill="#fff" filter="url(#sh)"/>
<text x="1359.33" y="111.00" font-size="12.00" fill="#131722" textLength="118.35" lengthAdjust="spacingAndGlyphs">0.4191 (57.78%) 4191</text>
<path d="M1350 111.5H1488" stroke="#000" stroke-width="1.2"/>
<text x="1554.21" y="222.90" font-size="15.00" fill="#ff9800" textLength="98.23" lengthAdjust="spacingAndGlyphs">0.618 (0.9574)</text>
<text x="1570.00" y="259.20" font-size="15.00" fill="#131722" textLength="82.45" lengthAdjust="spacingAndGlyphs">0.5 (0.8875)</text>
<text x="1554.21" y="296.40" font-size="15.00" fill="#f23645" textLength="98.23" lengthAdjust="spacingAndGlyphs">0.382 (0.8175)</text>
<text x="21.92" y="58.90" font-size="15.00" fill="#131722" textLength="40.88" lengthAdjust="spacingAndGlyphs">MATIC</text>
<text x="66.52" y="58.90" font-size="15.00" fill="#131722" textLength="57.16" lengthAdjust="spacingAndGlyphs">Network</text>
<text x="129.20" y="58.90" font-size="15.00" fill="#131722" textLength="5.20" lengthAdjust="spacingAndGlyphs">/</text>
<text x="141.28" y="58.90" font-size="15.00" fill="#131722" textLength="65.00" lengthAdjust="spacingAndGlyphs">TetherUS,</text>
<text x="210.68" y="58.90" font-size="15.00" fill="#131722" textLength="22.84" lengthAdjust="spacingAndGlyphs">1D,</text>
<text x="237.43" y="58.90" font-size="15.00" fill="#131722" textLength="57.93" lengthAdjust="spacingAndGlyphs">BINANCE</text>
<text x="304.12" y="58.90" font-size="15.00" fill="#131722" textLength="11.17" lengthAdjust="spacingAndGlyphs">O</text>
<text x="315.19" y="58.90" font-size="15.00" fill="#f23645" textLength="44.52" lengthAdjust="spacingAndGlyphs">1.1445</text>
<text x="367.75" y="58.90" font-size="15.00" fill="#131722" textLength="10.99" lengthAdjust="spacingAndGlyphs">H</text>
<text x="378.48" y="58.90" font-size="15.00" fill="#f23645" textLength="44.85" lengthAdjust="spacingAndGlyphs">1.1474</text>
<text x="431.63" y="58.90" font-size="15.00" fill="#131722" textLength="8.58" lengthAdjust="spacingAndGlyphs">L</text>
<text x="440.70" y="58.90" font-size="15.00" fill="#f23645" textLength="44.23" lengthAdjust="spacingAndGlyphs">1.0917</text>
<text x="493.09" y="58.90" font-size="15.00" fill="#131722" textLength="10.03" lengthAdjust="spacingAndGlyphs">C</text>
<text x="503.60" y="58.90" font-size="15.00" fill="#f23645" textLength="44.23" lengthAdjust="spacingAndGlyphs">1.1232</text>
<text x="556.39" y="58.90" font-size="15.00" fill="#f23645" textLength="114.69" lengthAdjust="spacingAndGlyphs">−0.0213 (−1.86%)</text>
<text x="680.34" y="58.90" font-size="15.00" fill="#131722" textLength="20.20" lengthAdjust="spacingAndGlyphs">Vol</text>
<text x="700.10" y="58.90" font-size="15.00" fill="#f23645" textLength="64.29" lengthAdjust="spacingAndGlyphs">104.958M</text>
<text x="23.44" y="79.70" font-size="15.00" fill="#131722" textLength="20.30" lengthAdjust="spacingAndGlyphs">Vol</text>
<circle cx="50.75" cy="75.1" r="1.15" fill="#131722"/>
<text x="56.72" y="79.70" font-size="15.00" fill="#131722" textLength="40.77" lengthAdjust="spacingAndGlyphs">MATIC</text>
<text x="106.90" y="79.70" font-size="15.00" fill="#ef5350" textLength="64.29" lengthAdjust="spacingAndGlyphs">104.958M</text>
</g>
<g clip-path="url(#cpRsi)">
<rect x="13" y="584.5" width="1649" height="98.1" fill="rgba(126,87,194,0.1)"/>
<path d="M13 584.5H1662" stroke="#787b86" stroke-opacity="1" stroke-width="1" stroke-dasharray="5 5"/>
<path d="M13 633.6H1662" stroke="#787b86" stroke-opacity="0.5" stroke-width="1" stroke-dasharray="5 5"/>
<path d="M13 682.6H1662" stroke="#787b86" stroke-opacity="1" stroke-width="1" stroke-dasharray="5 5"/>
<defs><linearGradient id="gOB" gradientUnits="userSpaceOnUse" x1="0" y1="511.0" x2="0" y2="584.5"><stop offset="0" stop-color="#4caf50" stop-opacity="1"/><stop offset="1" stop-color="#4caf50" stop-opacity="0"/></linearGradient>
<linearGradient id="gOS" gradientUnits="userSpaceOnUse" x1="0" y1="682.6" x2="0" y2="756.1"><stop offset="0" stop-color="#f23645" stop-opacity="0"/><stop offset="1" stop-color="#f23645" stop-opacity="1"/></linearGradient>
<clipPath id="cOB"><rect x="13" y="525" width="1649" height="59.5"/></clipPath><clipPath id="cOS"><rect x="13" y="682.6" width="1649" height="60"/></clipPath></defs>
<polygon points="14.46,584.52 14.46,636.60 17.76,664.79 21.07,655.61 24.37,656.32 27.68,667.79 30.98,654.71 34.29,657.20 37.60,656.10 40.90,654.94 44.21,656.23 47.51,656.69 50.82,644.25 54.12,648.92 57.43,658.65 60.74,660.98 64.04,667.37 67.35,668.28 70.65,665.72 73.96,651.76 77.26,652.35 80.57,635.58 83.88,645.83 87.18,638.12 90.49,634.25 93.79,615.80 97.10,614.09 100.40,606.24 103.71,593.23 107.02,584.79 110.32,580.21 113.63,563.72 116.93,574.79 120.24,567.01 123.54,583.60 126.85,611.85 130.16,606.69 133.46,588.25 136.77,604.59 140.07,603.11 143.38,603.98 146.68,620.15 149.99,609.11 153.30,582.02 156.60,576.91 159.91,582.05 163.21,576.72 166.52,608.51 169.82,604.07 173.13,589.96 176.44,594.11 179.74,584.04 183.05,583.12 186.35,599.54 189.66,603.57 192.97,590.14 196.27,584.74 199.58,607.54 202.88,604.47 206.19,604.18 209.49,608.13 212.80,623.06 216.11,607.92 219.41,592.16 222.72,586.87 226.02,578.56 229.33,572.36 232.63,593.75 235.94,596.25 239.25,608.52 242.55,607.72 245.86,619.75 249.16,636.26 252.47,640.03 255.77,632.49 259.08,641.65 262.39,649.27 265.69,637.32 269.00,641.52 272.30,652.45 275.61,659.61 278.91,657.27 282.22,658.22 285.53,652.45 288.83,670.21 292.14,675.28 295.44,663.30 298.75,663.58 302.05,639.77 305.36,630.60 308.67,629.69 311.97,647.96 315.28,638.69 318.58,623.93 321.89,634.66 325.19,635.65 328.50,648.03 331.81,636.95 335.11,645.64 338.42,639.51 341.72,647.35 345.03,650.41 348.33,643.96 351.64,655.54 354.95,645.07 358.25,636.76 361.56,643.26 364.86,637.03 368.17,638.16 371.47,642.01 374.78,641.28 378.09,629.89 381.39,629.48 384.70,637.23 388.00,639.58 391.31,641.04 394.61,641.25 397.92,633.85 401.23,637.37 404.53,640.35 407.84,628.29 411.14,619.14 414.45,615.84 417.75,612.50 421.06,625.89 424.37,618.12 427.67,650.17 430.98,660.77 434.28,668.99 437.59,662.95 440.89,668.18 444.20,672.09 447.51,665.01 450.81,669.13 454.12,657.26 457.42,662.02 460.73,659.25 464.03,665.96 467.34,672.33 470.65,662.36 473.95,649.32 477.26,656.90 480.56,650.06 483.87,657.78 487.17,661.49 490.48,678.95 493.79,684.09 497.09,684.09 500.40,691.88 503.70,679.06 507.01,682.72 510.32,677.82 513.62,677.25 516.93,680.93 520.23,657.90 523.54,662.81 526.84,663.14 530.15,659.34 533.46,667.34 536.76,656.33 540.07,648.46 543.37,654.65 546.68,647.16 549.98,634.18 553.29,629.32 556.60,619.35 559.90,637.56 563.21,639.95 566.51,644.55 569.82,646.12 573.12,639.33 576.43,638.94 579.74,643.96 583.04,669.22 586.35,674.24 589.65,691.31 592.96,678.50 596.26,692.09 599.57,710.21 602.88,697.57 606.18,692.90 609.49,692.09 612.79,696.93 616.10,701.39 619.40,701.49 622.71,688.40 626.02,692.02 629.32,681.32 632.63,672.73 635.93,655.06 639.24,659.39 642.54,649.71 645.85,657.20 649.16,651.13 652.46,658.24 655.77,649.68 659.07,665.64 662.38,660.95 665.68,643.64 668.99,637.73 672.30,635.08 675.60,622.32 678.91,630.76 682.21,640.86 685.52,644.50 688.82,637.35 692.13,635.35 695.44,631.67 698.74,613.36 702.05,610.68 705.35,620.32 708.66,584.55 711.96,602.99 715.27,606.20 718.58,618.63 721.88,615.37 725.19,630.06 728.49,628.26 731.80,620.14 735.10,619.42 738.41,630.00 741.72,625.35 745.02,636.65 748.33,644.18 751.63,637.57 754.94,640.05 758.24,643.23 761.55,638.28 764.86,647.94 768.16,651.72 771.47,642.94 774.77,653.13 778.08,656.83 781.38,658.10 784.69,655.71 788.00,657.15 791.30,658.00 794.61,643.38 797.91,639.28 801.22,643.05 804.53,644.98 807.83,644.49 811.14,647.70 814.44,645.48 817.75,669.98 821.05,676.55 824.36,694.10 827.67,689.45 830.97,689.98 834.28,686.66 837.58,694.59 840.89,696.85 844.19,689.79 847.50,692.96 850.81,693.32 854.11,691.11 857.42,682.89 860.72,673.79 864.03,646.08 867.33,658.06 870.64,670.89 873.95,674.33 877.25,673.41 880.56,671.14 883.86,659.93 887.17,656.79 890.47,656.17 893.78,659.69 897.09,667.53 900.39,669.69 903.70,680.26 907.00,690.39 910.31,685.54 913.61,676.30 916.92,666.65 920.23,656.42 923.53,658.40 926.84,667.82 930.14,654.75 933.45,636.99 936.75,641.16 940.06,657.31 943.37,654.64 946.67,655.38 949.98,661.60 953.28,653.99 956.59,661.69 959.89,666.08 963.20,647.82 966.51,640.96 969.81,632.73 973.12,604.65 976.42,625.33 979.73,611.97 983.03,616.97 986.34,631.23 989.65,617.64 992.95,617.23 996.26,620.39 999.56,644.54 1002.87,651.55 1006.17,654.02 1009.48,657.53 1012.79,651.30 1016.09,648.30 1019.40,650.37 1022.70,633.95 1026.01,645.44 1029.31,651.89 1032.62,643.14 1035.93,628.03 1039.23,605.23 1042.54,587.98 1045.84,578.69 1049.15,589.29 1052.45,587.21 1055.76,586.19 1059.07,607.03 1062.37,601.22 1065.68,593.07 1068.98,588.63 1072.29,599.86 1075.59,586.27 1078.90,593.90 1082.21,589.47 1085.51,586.97 1088.82,582.10 1092.12,568.46 1095.43,567.61 1098.74,556.83 1102.04,546.54 1105.35,555.40 1108.65,580.64 1111.96,563.69 1115.26,572.14 1118.57,566.14 1121.88,565.94 1125.18,600.98 1128.49,607.05 1131.79,606.20 1135.10,600.46 1138.40,619.05 1141.71,644.59 1145.02,631.32 1148.32,631.58 1151.63,635.63 1154.93,628.63 1158.24,634.88 1161.54,641.65 1164.85,638.39 1168.16,635.68 1171.46,633.18 1174.77,619.67 1178.07,614.32 1181.38,615.13 1184.68,617.49 1187.99,616.60 1191.30,614.21 1194.60,605.29 1197.91,585.64 1201.21,598.67 1204.52,587.84 1207.82,623.20 1211.13,610.74 1214.44,610.56 1217.74,611.64 1221.05,629.54 1224.35,625.25 1227.66,637.72 1230.96,643.29 1234.27,653.50 1237.58,649.53 1240.88,633.37 1244.19,615.48 1247.49,622.49 1250.80,626.55 1254.10,608.35 1257.41,587.09 1260.72,584.12 1264.02,597.26 1267.33,606.60 1270.63,614.01 1273.94,609.14 1277.24,599.77 1280.55,615.32 1283.86,644.54 1287.16,636.99 1290.47,643.98 1293.77,649.19 1297.08,654.93 1300.38,642.99 1303.69,651.30 1307.00,628.14 1310.30,622.75 1313.61,637.12 1316.91,633.12 1320.22,642.63 1323.52,640.63 1326.83,640.46 1330.14,649.11 1333.44,653.91 1336.75,659.28 1340.05,650.85 1343.36,652.40 1346.66,660.37 1349.97,665.71 1353.28,659.75 1356.58,661.71 1359.89,651.27 1363.19,640.80 1366.50,640.46 1369.80,631.94 1373.11,637.32 1376.42,641.78 1379.72,632.01 1383.03,636.81 1386.33,642.37 1389.64,646.43 1392.94,643.06 1396.25,631.53 1399.56,620.49 1402.86,621.40 1406.17,613.99 1409.47,616.02 1412.78,623.64 1416.09,606.27 1419.39,619.99 1422.70,606.67 1426.00,607.97 1429.31,590.09 1432.61,602.08 1435.92,585.16 1439.23,586.99 1442.53,581.25 1445.84,612.21 1449.14,602.16 1452.45,604.41 1455.75,602.33 1459.06,601.50 1462.37,587.48 1465.67,600.91 1468.98,608.48 1472.28,611.75 1475.59,605.02 1478.89,589.14 1482.20,591.96 1485.51,580.97 1488.81,590.12 1488.81,584.52" fill="url(#gOB)" clip-path="url(#cOB)"/>
<polygon points="14.46,682.59 14.46,636.60 17.76,664.79 21.07,655.61 24.37,656.32 27.68,667.79 30.98,654.71 34.29,657.20 37.60,656.10 40.90,654.94 44.21,656.23 47.51,656.69 50.82,644.25 54.12,648.92 57.43,658.65 60.74,660.98 64.04,667.37 67.35,668.28 70.65,665.72 73.96,651.76 77.26,652.35 80.57,635.58 83.88,645.83 87.18,638.12 90.49,634.25 93.79,615.80 97.10,614.09 100.40,606.24 103.71,593.23 107.02,584.79 110.32,580.21 113.63,563.72 116.93,574.79 120.24,567.01 123.54,583.60 126.85,611.85 130.16,606.69 133.46,588.25 136.77,604.59 140.07,603.11 143.38,603.98 146.68,620.15 149.99,609.11 153.30,582.02 156.60,576.91 159.91,582.05 163.21,576.72 166.52,608.51 169.82,604.07 173.13,589.96 176.44,594.11 179.74,584.04 183.05,583.12 186.35,599.54 189.66,603.57 192.97,590.14 196.27,584.74 199.58,607.54 202.88,604.47 206.19,604.18 209.49,608.13 212.80,623.06 216.11,607.92 219.41,592.16 222.72,586.87 226.02,578.56 229.33,572.36 232.63,593.75 235.94,596.25 239.25,608.52 242.55,607.72 245.86,619.75 249.16,636.26 252.47,640.03 255.77,632.49 259.08,641.65 262.39,649.27 265.69,637.32 269.00,641.52 272.30,652.45 275.61,659.61 278.91,657.27 282.22,658.22 285.53,652.45 288.83,670.21 292.14,675.28 295.44,663.30 298.75,663.58 302.05,639.77 305.36,630.60 308.67,629.69 311.97,647.96 315.28,638.69 318.58,623.93 321.89,634.66 325.19,635.65 328.50,648.03 331.81,636.95 335.11,645.64 338.42,639.51 341.72,647.35 345.03,650.41 348.33,643.96 351.64,655.54 354.95,645.07 358.25,636.76 361.56,643.26 364.86,637.03 368.17,638.16 371.47,642.01 374.78,641.28 378.09,629.89 381.39,629.48 384.70,637.23 388.00,639.58 391.31,641.04 394.61,641.25 397.92,633.85 401.23,637.37 404.53,640.35 407.84,628.29 411.14,619.14 414.45,615.84 417.75,612.50 421.06,625.89 424.37,618.12 427.67,650.17 430.98,660.77 434.28,668.99 437.59,662.95 440.89,668.18 444.20,672.09 447.51,665.01 450.81,669.13 454.12,657.26 457.42,662.02 460.73,659.25 464.03,665.96 467.34,672.33 470.65,662.36 473.95,649.32 477.26,656.90 480.56,650.06 483.87,657.78 487.17,661.49 490.48,678.95 493.79,684.09 497.09,684.09 500.40,691.88 503.70,679.06 507.01,682.72 510.32,677.82 513.62,677.25 516.93,680.93 520.23,657.90 523.54,662.81 526.84,663.14 530.15,659.34 533.46,667.34 536.76,656.33 540.07,648.46 543.37,654.65 546.68,647.16 549.98,634.18 553.29,629.32 556.60,619.35 559.90,637.56 563.21,639.95 566.51,644.55 569.82,646.12 573.12,639.33 576.43,638.94 579.74,643.96 583.04,669.22 586.35,674.24 589.65,691.31 592.96,678.50 596.26,692.09 599.57,710.21 602.88,697.57 606.18,692.90 609.49,692.09 612.79,696.93 616.10,701.39 619.40,701.49 622.71,688.40 626.02,692.02 629.32,681.32 632.63,672.73 635.93,655.06 639.24,659.39 642.54,649.71 645.85,657.20 649.16,651.13 652.46,658.24 655.77,649.68 659.07,665.64 662.38,660.95 665.68,643.64 668.99,637.73 672.30,635.08 675.60,622.32 678.91,630.76 682.21,640.86 685.52,644.50 688.82,637.35 692.13,635.35 695.44,631.67 698.74,613.36 702.05,610.68 705.35,620.32 708.66,584.55 711.96,602.99 715.27,606.20 718.58,618.63 721.88,615.37 725.19,630.06 728.49,628.26 731.80,620.14 735.10,619.42 738.41,630.00 741.72,625.35 745.02,636.65 748.33,644.18 751.63,637.57 754.94,640.05 758.24,643.23 761.55,638.28 764.86,647.94 768.16,651.72 771.47,642.94 774.77,653.13 778.08,656.83 781.38,658.10 784.69,655.71 788.00,657.15 791.30,658.00 794.61,643.38 797.91,639.28 801.22,643.05 804.53,644.98 807.83,644.49 811.14,647.70 814.44,645.48 817.75,669.98 821.05,676.55 824.36,694.10 827.67,689.45 830.97,689.98 834.28,686.66 837.58,694.59 840.89,696.85 844.19,689.79 847.50,692.96 850.81,693.32 854.11,691.11 857.42,682.89 860.72,673.79 864.03,646.08 867.33,658.06 870.64,670.89 873.95,674.33 877.25,673.41 880.56,671.14 883.86,659.93 887.17,656.79 890.47,656.17 893.78,659.69 897.09,667.53 900.39,669.69 903.70,680.26 907.00,690.39 910.31,685.54 913.61,676.30 916.92,666.65 920.23,656.42 923.53,658.40 926.84,667.82 930.14,654.75 933.45,636.99 936.75,641.16 940.06,657.31 943.37,654.64 946.67,655.38 949.98,661.60 953.28,653.99 956.59,661.69 959.89,666.08 963.20,647.82 966.51,640.96 969.81,632.73 973.12,604.65 976.42,625.33 979.73,611.97 983.03,616.97 986.34,631.23 989.65,617.64 992.95,617.23 996.26,620.39 999.56,644.54 1002.87,651.55 1006.17,654.02 1009.48,657.53 1012.79,651.30 1016.09,648.30 1019.40,650.37 1022.70,633.95 1026.01,645.44 1029.31,651.89 1032.62,643.14 1035.93,628.03 1039.23,605.23 1042.54,587.98 1045.84,578.69 1049.15,589.29 1052.45,587.21 1055.76,586.19 1059.07,607.03 1062.37,601.22 1065.68,593.07 1068.98,588.63 1072.29,599.86 1075.59,586.27 1078.90,593.90 1082.21,589.47 1085.51,586.97 1088.82,582.10 1092.12,568.46 1095.43,567.61 1098.74,556.83 1102.04,546.54 1105.35,555.40 1108.65,580.64 1111.96,563.69 1115.26,572.14 1118.57,566.14 1121.88,565.94 1125.18,600.98 1128.49,607.05 1131.79,606.20 1135.10,600.46 1138.40,619.05 1141.71,644.59 1145.02,631.32 1148.32,631.58 1151.63,635.63 1154.93,628.63 1158.24,634.88 1161.54,641.65 1164.85,638.39 1168.16,635.68 1171.46,633.18 1174.77,619.67 1178.07,614.32 1181.38,615.13 1184.68,617.49 1187.99,616.60 1191.30,614.21 1194.60,605.29 1197.91,585.64 1201.21,598.67 1204.52,587.84 1207.82,623.20 1211.13,610.74 1214.44,610.56 1217.74,611.64 1221.05,629.54 1224.35,625.25 1227.66,637.72 1230.96,643.29 1234.27,653.50 1237.58,649.53 1240.88,633.37 1244.19,615.48 1247.49,622.49 1250.80,626.55 1254.10,608.35 1257.41,587.09 1260.72,584.12 1264.02,597.26 1267.33,606.60 1270.63,614.01 1273.94,609.14 1277.24,599.77 1280.55,615.32 1283.86,644.54 1287.16,636.99 1290.47,643.98 1293.77,649.19 1297.08,654.93 1300.38,642.99 1303.69,651.30 1307.00,628.14 1310.30,622.75 1313.61,637.12 1316.91,633.12 1320.22,642.63 1323.52,640.63 1326.83,640.46 1330.14,649.11 1333.44,653.91 1336.75,659.28 1340.05,650.85 1343.36,652.40 1346.66,660.37 1349.97,665.71 1353.28,659.75 1356.58,661.71 1359.89,651.27 1363.19,640.80 1366.50,640.46 1369.80,631.94 1373.11,637.32 1376.42,641.78 1379.72,632.01 1383.03,636.81 1386.33,642.37 1389.64,646.43 1392.94,643.06 1396.25,631.53 1399.56,620.49 1402.86,621.40 1406.17,613.99 1409.47,616.02 1412.78,623.64 1416.09,606.27 1419.39,619.99 1422.70,606.67 1426.00,607.97 1429.31,590.09 1432.61,602.08 1435.92,585.16 1439.23,586.99 1442.53,581.25 1445.84,612.21 1449.14,602.16 1452.45,604.41 1455.75,602.33 1459.06,601.50 1462.37,587.48 1465.67,600.91 1468.98,608.48 1472.28,611.75 1475.59,605.02 1478.89,589.14 1482.20,591.96 1485.51,580.97 1488.81,590.12 1488.81,682.59" fill="url(#gOS)" clip-path="url(#cOS)"/>
<polyline points="14.46,629.22 17.76,631.80 21.07,633.72 24.37,635.70 27.68,638.50 30.98,640.36 34.29,642.40 37.60,644.36 40.90,646.24 44.21,648.21 47.51,650.21 50.82,651.32 54.12,652.77 57.43,654.91 60.74,656.66 64.04,656.84 67.35,657.74 70.65,658.42 73.96,657.27 77.26,657.10 80.57,655.56 83.88,654.83 87.18,653.62 90.49,652.05 93.79,649.13 97.10,646.98 100.40,643.93 103.71,639.26 107.02,633.81 110.32,627.59 113.63,620.12 116.93,613.63 120.24,607.57 123.54,602.66 126.85,600.97 130.16,598.17 133.46,594.61 136.77,592.49 140.07,591.58 143.38,590.86 146.68,591.86 149.99,592.99 153.30,592.79 156.60,592.56 159.91,593.87 163.21,594.00 166.52,596.97 169.82,598.43 173.13,596.87 176.44,595.97 179.74,595.67 183.05,594.13 186.35,593.88 189.66,593.85 192.97,591.70 196.27,589.96 199.58,591.79 202.88,593.76 206.19,595.34 209.49,597.58 212.80,598.62 216.11,598.89 219.41,599.05 222.72,598.53 226.02,598.14 229.33,597.37 232.63,596.96 235.94,596.44 239.25,597.75 242.55,599.39 245.86,600.26 249.16,602.53 252.47,605.10 255.77,606.84 259.08,608.16 262.39,611.12 265.69,614.34 269.00,618.25 272.30,623.52 275.61,629.76 278.91,634.29 282.22,638.72 285.53,641.86 288.83,646.32 292.14,650.29 295.44,652.22 298.75,653.90 302.05,654.42 305.36,653.63 308.67,652.23 311.97,652.99 315.28,652.79 318.58,650.75 321.89,648.97 325.19,647.43 328.50,646.70 331.81,645.59 335.11,643.84 338.42,641.28 341.72,640.14 345.03,639.20 348.33,639.50 351.64,641.28 354.95,642.38 358.25,641.58 361.56,641.91 364.86,642.85 368.17,643.09 371.47,643.55 374.78,643.07 378.09,642.56 381.39,641.41 384.70,641.25 388.00,640.69 391.31,640.02 394.61,639.83 397.92,638.28 401.23,637.73 404.53,637.98 407.84,636.91 411.14,635.64 414.45,634.04 417.75,631.93 421.06,630.83 424.37,629.99 427.67,631.47 430.98,633.15 434.28,635.25 437.59,636.82 440.89,638.74 444.20,641.47 447.51,643.45 450.81,645.50 454.12,647.57 457.42,650.64 460.73,653.74 464.03,657.56 467.34,660.87 470.65,664.03 473.95,663.97 477.26,663.70 480.56,662.34 483.87,661.98 487.17,661.50 490.48,661.99 493.79,663.35 497.09,664.42 500.40,666.89 503.70,668.11 507.01,669.79 510.32,670.63 513.62,670.98 516.93,672.31 520.23,672.92 523.54,673.35 526.84,674.28 530.15,674.39 533.46,674.81 536.76,673.19 540.07,670.65 543.37,668.55 546.68,665.35 549.98,662.14 553.29,658.33 556.60,654.15 559.90,651.32 563.21,648.39 566.51,647.44 569.82,646.25 573.12,644.54 576.43,643.09 579.74,641.42 583.04,642.34 586.35,644.18 589.65,646.80 592.96,649.04 596.26,653.17 599.57,658.95 602.88,664.54 606.18,668.49 609.49,672.22 612.79,675.96 616.10,679.91 619.40,684.35 622.71,687.88 626.02,691.31 629.32,692.18 632.63,692.07 635.93,689.48 639.24,688.11 642.54,685.09 645.85,681.30 649.16,677.98 652.46,675.51 655.77,672.48 659.07,670.24 662.38,667.35 665.68,663.22 668.99,659.60 672.30,655.54 675.60,651.32 678.91,648.32 682.21,647.31 685.52,646.25 688.82,645.36 692.13,643.80 695.44,642.41 698.74,639.21 702.05,636.42 705.35,633.18 708.66,627.73 711.96,624.82 715.27,622.57 718.58,621.40 721.88,620.90 725.19,620.85 728.49,619.95 731.80,618.21 735.10,616.93 738.41,616.55 741.72,616.09 745.02,617.76 748.33,620.15 751.63,621.38 754.94,625.35 758.24,628.22 761.55,630.51 764.86,632.61 768.16,635.20 771.47,636.12 774.77,637.90 778.08,640.52 781.38,643.28 784.69,645.12 788.00,647.39 791.30,648.92 794.61,648.86 797.91,648.98 801.22,649.20 804.53,649.32 807.83,649.77 811.14,649.75 814.44,649.30 817.75,651.24 821.05,652.91 824.36,655.57 827.67,657.81 830.97,660.26 834.28,662.37 837.58,664.98 840.89,668.80 844.19,672.41 847.50,675.97 850.81,679.42 854.11,682.75 857.42,685.27 860.72,687.29 864.03,685.58 867.33,684.26 870.64,682.60 873.95,681.52 877.25,680.34 880.56,679.23 883.86,676.75 887.17,673.89 890.47,671.49 893.78,669.11 897.09,667.27 900.39,665.74 903.70,665.56 907.00,666.74 910.31,669.56 913.61,670.86 916.92,670.56 920.23,669.28 923.53,668.21 926.84,667.97 930.14,667.60 933.45,666.19 936.75,665.11 940.06,664.94 943.37,664.02 946.67,663.00 949.98,661.67 953.28,659.07 956.59,657.36 959.89,656.63 963.20,655.29 966.51,654.18 969.81,652.35 973.12,647.84 976.42,645.74 979.73,643.95 983.03,642.22 986.34,640.36 989.65,637.72 992.95,634.99 996.26,632.05 999.56,631.37 1002.87,630.65 1006.17,629.79 1009.48,630.48 1012.79,631.22 1016.09,632.33 1019.40,635.60 1022.70,636.21 1026.01,638.60 1029.31,641.10 1032.62,641.95 1035.93,642.69 1039.23,641.83 1042.54,639.52 1045.84,634.82 1049.15,630.37 1052.45,625.60 1055.76,620.50 1059.07,617.34 1062.37,613.98 1065.68,609.88 1068.98,606.65 1072.29,603.39 1075.59,598.70 1078.90,595.19 1082.21,592.43 1085.51,591.13 1088.82,590.71 1092.12,589.98 1095.43,588.43 1098.74,586.26 1102.04,583.43 1105.35,579.74 1108.65,578.27 1111.96,576.17 1115.26,574.99 1118.57,572.58 1121.88,571.13 1125.18,571.64 1128.49,572.89 1131.79,574.27 1135.10,575.58 1138.40,579.19 1141.71,584.69 1145.02,590.01 1148.32,596.08 1151.63,601.81 1154.93,605.24 1158.24,610.33 1161.54,615.29 1164.85,620.45 1168.16,625.44 1171.46,627.74 1174.77,628.64 1178.07,629.22 1181.38,630.26 1184.68,630.15 1187.99,628.15 1191.30,626.93 1194.60,625.05 1197.91,621.48 1201.21,619.34 1204.52,615.98 1207.82,614.66 1211.13,612.69 1214.44,610.90 1217.74,609.36 1221.05,610.06 1224.35,610.84 1227.66,612.46 1230.96,614.30 1234.27,616.93 1237.58,619.46 1240.88,621.46 1244.19,623.59 1247.49,625.30 1250.80,628.06 1254.10,627.00 1257.41,625.31 1260.72,623.42 1264.02,622.40 1267.33,620.76 1270.63,619.95 1273.94,617.91 1277.24,614.80 1280.55,612.08 1283.86,611.72 1287.16,611.98 1290.47,614.02 1293.77,615.92 1297.08,617.95 1300.38,620.42 1303.69,625.01 1307.00,628.15 1310.30,629.98 1313.61,632.15 1316.91,633.52 1320.22,635.91 1323.52,638.83 1326.83,640.63 1330.14,640.95 1333.44,642.16 1336.75,643.25 1340.05,643.37 1343.36,643.19 1346.66,644.43 1349.97,645.46 1353.28,647.72 1356.58,650.50 1359.89,651.51 1363.19,652.06 1366.50,651.91 1369.80,651.29 1373.11,651.06 1376.42,650.54 1379.72,648.97 1383.03,647.37 1386.33,646.76 1389.64,646.34 1392.94,645.10 1396.25,642.66 1399.56,639.85 1402.86,636.98 1406.17,634.31 1409.47,632.54 1412.78,631.34 1416.09,629.51 1419.39,628.27 1422.70,625.76 1426.00,624.04 1429.31,620.71 1432.61,617.83 1435.92,613.45 1439.23,609.45 1442.53,605.86 1445.84,605.27 1449.14,603.89 1452.45,603.21 1455.75,602.23 1459.06,600.65 1462.37,599.31 1465.67,597.94 1468.98,598.07 1472.28,598.34 1475.59,599.41 1478.89,598.49 1482.20,598.97 1485.51,598.54 1488.81,599.17" fill="none" stroke="#ffeb3b" stroke-width="1.4"/>
<polyline points="14.46,636.60 17.76,664.79 21.07,655.61 24.37,656.32 27.68,667.79 30.98,654.71 34.29,657.20 37.60,656.10 40.90,654.94 44.21,656.23 47.51,656.69 50.82,644.25 54.12,648.92 57.43,658.65 60.74,660.98 64.04,667.37 67.35,668.28 70.65,665.72 73.96,651.76 77.26,652.35 80.57,635.58 83.88,645.83 87.18,638.12 90.49,634.25 93.79,615.80 97.10,614.09 100.40,606.24 103.71,593.23 107.02,584.79 110.32,580.21 113.63,563.72 116.93,574.79 120.24,567.01 123.54,583.60 126.85,611.85 130.16,606.69 133.46,588.25 136.77,604.59 140.07,603.11 143.38,603.98 146.68,620.15 149.99,609.11 153.30,582.02 156.60,576.91 159.91,582.05 163.21,576.72 166.52,608.51 169.82,604.07 173.13,589.96 176.44,594.11 179.74,584.04 183.05,583.12 186.35,599.54 189.66,603.57 192.97,590.14 196.27,584.74 199.58,607.54 202.88,604.47 206.19,604.18 209.49,608.13 212.80,623.06 216.11,607.92 219.41,592.16 222.72,586.87 226.02,578.56 229.33,572.36 232.63,593.75 235.94,596.25 239.25,608.52 242.55,607.72 245.86,619.75 249.16,636.26 252.47,640.03 255.77,632.49 259.08,641.65 262.39,649.27 265.69,637.32 269.00,641.52 272.30,652.45 275.61,659.61 278.91,657.27 282.22,658.22 285.53,652.45 288.83,670.21 292.14,675.28 295.44,663.30 298.75,663.58 302.05,639.77 305.36,630.60 308.67,629.69 311.97,647.96 315.28,638.69 318.58,623.93 321.89,634.66 325.19,635.65 328.50,648.03 331.81,636.95 335.11,645.64 338.42,639.51 341.72,647.35 345.03,650.41 348.33,643.96 351.64,655.54 354.95,645.07 358.25,636.76 361.56,643.26 364.86,637.03 368.17,638.16 371.47,642.01 374.78,641.28 378.09,629.89 381.39,629.48 384.70,637.23 388.00,639.58 391.31,641.04 394.61,641.25 397.92,633.85 401.23,637.37 404.53,640.35 407.84,628.29 411.14,619.14 414.45,615.84 417.75,612.50 421.06,625.89 424.37,618.12 427.67,650.17 430.98,660.77 434.28,668.99 437.59,662.95 440.89,668.18 444.20,672.09 447.51,665.01 450.81,669.13 454.12,657.26 457.42,662.02 460.73,659.25 464.03,665.96 467.34,672.33 470.65,662.36 473.95,649.32 477.26,656.90 480.56,650.06 483.87,657.78 487.17,661.49 490.48,678.95 493.79,684.09 497.09,684.09 500.40,691.88 503.70,679.06 507.01,682.72 510.32,677.82 513.62,677.25 516.93,680.93 520.23,657.90 523.54,662.81 526.84,663.14 530.15,659.34 533.46,667.34 536.76,656.33 540.07,648.46 543.37,654.65 546.68,647.16 549.98,634.18 553.29,629.32 556.60,619.35 559.90,637.56 563.21,639.95 566.51,644.55 569.82,646.12 573.12,639.33 576.43,638.94 579.74,643.96 583.04,669.22 586.35,674.24 589.65,691.31 592.96,678.50 596.26,692.09 599.57,710.21 602.88,697.57 606.18,692.90 609.49,692.09 612.79,696.93 616.10,701.39 619.40,701.49 622.71,688.40 626.02,692.02 629.32,681.32 632.63,672.73 635.93,655.06 639.24,659.39 642.54,649.71 645.85,657.20 649.16,651.13 652.46,658.24 655.77,649.68 659.07,665.64 662.38,660.95 665.68,643.64 668.99,637.73 672.30,635.08 675.60,622.32 678.91,630.76 682.21,640.86 685.52,644.50 688.82,637.35 692.13,635.35 695.44,631.67 698.74,613.36 702.05,610.68 705.35,620.32 708.66,584.55 711.96,602.99 715.27,606.20 718.58,618.63 721.88,615.37 725.19,630.06 728.49,628.26 731.80,620.14 735.10,619.42 738.41,630.00 741.72,625.35 745.02,636.65 748.33,644.18 751.63,637.57 754.94,640.05 758.24,643.23 761.55,638.28 764.86,647.94 768.16,651.72 771.47,642.94 774.77,653.13 778.08,656.83 781.38,658.10 784.69,655.71 788.00,657.15 791.30,658.00 794.61,643.38 797.91,639.28 801.22,643.05 804.53,644.98 807.83,644.49 811.14,647.70 814.44,645.48 817.75,669.98 821.05,676.55 824.36,694.10 827.67,689.45 830.97,689.98 834.28,686.66 837.58,694.59 840.89,696.85 844.19,689.79 847.50,692.96 850.81,693.32 854.11,691.11 857.42,682.89 860.72,673.79 864.03,646.08 867.33,658.06 870.64,670.89 873.95,674.33 877.25,673.41 880.56,671.14 883.86,659.93 887.17,656.79 890.47,656.17 893.78,659.69 897.09,667.53 900.39,669.69 903.70,680.26 907.00,690.39 910.31,685.54 913.61,676.30 916.92,666.65 920.23,656.42 923.53,658.40 926.84,667.82 930.14,654.75 933.45,636.99 936.75,641.16 940.06,657.31 943.37,654.64 946.67,655.38 949.98,661.60 953.28,653.99 956.59,661.69 959.89,666.08 963.20,647.82 966.51,640.96 969.81,632.73 973.12,604.65 976.42,625.33 979.73,611.97 983.03,616.97 986.34,631.23 989.65,617.64 992.95,617.23 996.26,620.39 999.56,644.54 1002.87,651.55 1006.17,654.02 1009.48,657.53 1012.79,651.30 1016.09,648.30 1019.40,650.37 1022.70,633.95 1026.01,645.44 1029.31,651.89 1032.62,643.14 1035.93,628.03 1039.23,605.23 1042.54,587.98 1045.84,578.69 1049.15,589.29 1052.45,587.21 1055.76,586.19 1059.07,607.03 1062.37,601.22 1065.68,593.07 1068.98,588.63 1072.29,599.86 1075.59,586.27 1078.90,593.90 1082.21,589.47 1085.51,586.97 1088.82,582.10 1092.12,568.46 1095.43,567.61 1098.74,556.83 1102.04,546.54 1105.35,555.40 1108.65,580.64 1111.96,563.69 1115.26,572.14 1118.57,566.14 1121.88,565.94 1125.18,600.98 1128.49,607.05 1131.79,606.20 1135.10,600.46 1138.40,619.05 1141.71,644.59 1145.02,631.32 1148.32,631.58 1151.63,635.63 1154.93,628.63 1158.24,634.88 1161.54,641.65 1164.85,638.39 1168.16,635.68 1171.46,633.18 1174.77,619.67 1178.07,614.32 1181.38,615.13 1184.68,617.49 1187.99,616.60 1191.30,614.21 1194.60,605.29 1197.91,585.64 1201.21,598.67 1204.52,587.84 1207.82,623.20 1211.13,610.74 1214.44,610.56 1217.74,611.64 1221.05,629.54 1224.35,625.25 1227.66,637.72 1230.96,643.29 1234.27,653.50 1237.58,649.53 1240.88,633.37 1244.19,615.48 1247.49,622.49 1250.80,626.55 1254.10,608.35 1257.41,587.09 1260.72,584.12 1264.02,597.26 1267.33,606.60 1270.63,614.01 1273.94,609.14 1277.24,599.77 1280.55,615.32 1283.86,644.54 1287.16,636.99 1290.47,643.98 1293.77,649.19 1297.08,654.93 1300.38,642.99 1303.69,651.30 1307.00,628.14 1310.30,622.75 1313.61,637.12 1316.91,633.12 1320.22,642.63 1323.52,640.63 1326.83,640.46 1330.14,649.11 1333.44,653.91 1336.75,659.28 1340.05,650.85 1343.36,652.40 1346.66,660.37 1349.97,665.71 1353.28,659.75 1356.58,661.71 1359.89,651.27 1363.19,640.80 1366.50,640.46 1369.80,631.94 1373.11,637.32 1376.42,641.78 1379.72,632.01 1383.03,636.81 1386.33,642.37 1389.64,646.43 1392.94,643.06 1396.25,631.53 1399.56,620.49 1402.86,621.40 1406.17,613.99 1409.47,616.02 1412.78,623.64 1416.09,606.27 1419.39,619.99 1422.70,606.67 1426.00,607.97 1429.31,590.09 1432.61,602.08 1435.92,585.16 1439.23,586.99 1442.53,581.25 1445.84,612.21 1449.14,602.16 1452.45,604.41 1455.75,602.33 1459.06,601.50 1462.37,587.48 1465.67,600.91 1468.98,608.48 1472.28,611.75 1475.59,605.02 1478.89,589.14 1482.20,591.96 1485.51,580.97 1488.81,590.12" fill="none" stroke="#7e57c2" stroke-width="1.3"/>
</g>
<text x="22.46" y="549.60" font-size="15.00" fill="#131722" textLength="21.11" lengthAdjust="spacingAndGlyphs">RSI</text>
<text x="51.94" y="549.60" font-size="15.00" fill="#7e57c2" textLength="37.29" lengthAdjust="spacingAndGlyphs">68.24</text>
<text x="98.04" y="549.60" font-size="15.00" fill="#ffeb3b" textLength="37.30" lengthAdjust="spacingAndGlyphs">64.58</text>
<text x="143.78" y="549.60" font-size="15.00" fill="#131722" textLength="9.32" lengthAdjust="spacingAndGlyphs">Ø</text>
<text x="163.10" y="549.60" font-size="15.00" fill="#131722" textLength="8.88" lengthAdjust="spacingAndGlyphs">Ø</text>
<text x="228.11" y="549.60" font-size="15.00" fill="#131722" textLength="8.77" lengthAdjust="spacingAndGlyphs">Ø</text>
<text x="246.91" y="549.60" font-size="15.00" fill="#131722" textLength="8.77" lengthAdjust="spacingAndGlyphs">Ø</text>
<text x="266.08" y="549.60" font-size="15.00" fill="#131722" textLength="9.32" lengthAdjust="spacingAndGlyphs">Ø</text>
<text x="1671.47" y="107.60" font-size="15.20" fill="#131722" textLength="45.41" lengthAdjust="spacingAndGlyphs">1.2000</text>
<text x="1671.47" y="213.60" font-size="15.20" fill="#131722" textLength="45.41" lengthAdjust="spacingAndGlyphs">1.0000</text>
<text x="1672.03" y="266.60" font-size="15.20" fill="#131722" textLength="44.85" lengthAdjust="spacingAndGlyphs">0.9000</text>
<text x="1672.03" y="319.60" font-size="15.20" fill="#131722" textLength="44.85" lengthAdjust="spacingAndGlyphs">0.8000</text>
<text x="1672.03" y="372.60" font-size="15.20" fill="#131722" textLength="44.85" lengthAdjust="spacingAndGlyphs">0.7000</text>
<text x="1672.03" y="425.60" font-size="15.20" fill="#131722" textLength="44.85" lengthAdjust="spacingAndGlyphs">0.6000</text>
<text x="1672.03" y="478.60" font-size="15.20" fill="#131722" textLength="44.85" lengthAdjust="spacingAndGlyphs">0.5000</text>
<text x="1671.75" y="564.90" font-size="15.20" fill="#131722" textLength="37.64" lengthAdjust="spacingAndGlyphs">80.00</text>
<text x="1671.63" y="613.93" font-size="15.20" fill="#131722" textLength="37.76" lengthAdjust="spacingAndGlyphs">60.00</text>
<text x="1672.06" y="662.97" font-size="15.20" fill="#131722" textLength="37.32" lengthAdjust="spacingAndGlyphs">40.00</text>
<text x="1671.64" y="712.00" font-size="15.20" fill="#131722" textLength="37.75" lengthAdjust="spacingAndGlyphs">20.00</text>
<path d="M1662 101.2H1720.5a2 2 0 0 1 2 2V119.6a2 2 0 0 1 -2 2H1662Z" fill="#000"/>
<text x="1671.46" y="116.70" font-size="15.20" fill="#fff" textLength="45.58" lengthAdjust="spacingAndGlyphs">1.1827</text>
<path d="M1662 172.1H1720.5a2 2 0 0 1 2 2V189.4a2 2 0 0 1 -2 2H1662Z" fill="#000"/>
<text x="1671.47" y="187.05" font-size="15.20" fill="#fff" textLength="45.54" lengthAdjust="spacingAndGlyphs">1.0589</text>
<path d="M1662 221.3H1720.5a2 2 0 0 1 2 2V239.4a2 2 0 0 1 -2 2H1662Z" fill="#000"/>
<text x="1672.03" y="236.65" font-size="15.20" fill="#fff" textLength="44.99" lengthAdjust="spacingAndGlyphs">0.9561</text>
<path d="M1662 258.5H1720.5a2 2 0 0 1 2 2V276.6a2 2 0 0 1 -2 2H1662Z" fill="#000"/>
<text x="1672.03" y="273.85" font-size="15.20" fill="#fff" textLength="44.92" lengthAdjust="spacingAndGlyphs">0.8876</text>
<path d="M1662 133H1734.5a2.5 2.5 0 0 1 2.5 2.5V168.9a2.5 2.5 0 0 1 -2.5 2.5H1662Z" fill="#f23645"/>
<text x="1671.86" y="148.60" font-size="15.20" fill="#fff" textLength="45.69" lengthAdjust="spacingAndGlyphs">1.1232</text>
<text x="1671.86" y="166.20" font-size="15.20" fill="#fde1e3" textLength="58.40" lengthAdjust="spacingAndGlyphs">15:07:32</text>
<rect x="1667" y="39" width="70" height="32" rx="5" fill="#fff" stroke="#e0e3eb" stroke-width="1.3"/>
<text x="1678.00" y="59.70" font-size="15.20" fill="#131722" textLength="35.40" lengthAdjust="spacingAndGlyphs">USDT</text>
<text x="52.76" y="752.10" font-size="15.20" fill="#131722" textLength="34.70" lengthAdjust="spacingAndGlyphs" font-weight="bold">2023</text>
<text x="159.46" y="752.10" font-size="15.20" fill="#131722" textLength="25.97" lengthAdjust="spacingAndGlyphs">Feb</text>
<text x="355.97" y="752.10" font-size="15.20" fill="#131722" textLength="23.58" lengthAdjust="spacingAndGlyphs">Apr</text>
<text x="557.57" y="752.10" font-size="15.20" fill="#131722" textLength="24.10" lengthAdjust="spacingAndGlyphs">Jun</text>
<text x="758.87" y="752.10" font-size="15.20" fill="#131722" textLength="25.14" lengthAdjust="spacingAndGlyphs">Aug</text>
<text x="861.48" y="752.10" font-size="15.20" fill="#131722" textLength="24.29" lengthAdjust="spacingAndGlyphs">Sep</text>
<text x="1061.91" y="752.10" font-size="15.20" fill="#131722" textLength="25.84" lengthAdjust="spacingAndGlyphs">Nov</text>
<text x="1259.46" y="752.10" font-size="15.20" fill="#131722" textLength="34.42" lengthAdjust="spacingAndGlyphs" font-weight="bold">2024</text>
<text x="1366.41" y="752.10" font-size="15.20" fill="#131722" textLength="25.00" lengthAdjust="spacingAndGlyphs">Feb</text>
<text x="1566.37" y="752.10" font-size="15.20" fill="#131722" textLength="22.87" lengthAdjust="spacingAndGlyphs">Apr</text>
<g fill="#131722"><path d="M13.1 779.7H22.75V791.6H18.05V783.9H13.1Z"/><circle cx="26.95" cy="782.3" r="2.65"/><path d="M32.15 779.7H37L32.5 791.6H27.3Z"/></g>
<text x="42.05" y="792.00" font-size="16.00" fill="#131722" textLength="87.21" lengthAdjust="spacingAndGlyphs">TradingView</text>
</svg></body></html>
